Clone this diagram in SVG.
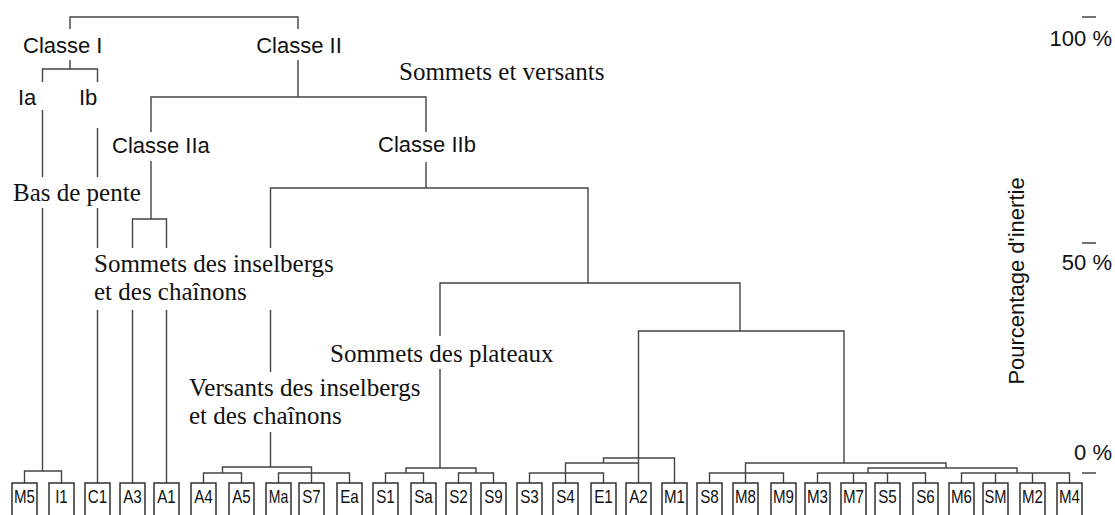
<svg xmlns="http://www.w3.org/2000/svg" width="1115" height="515" viewBox="0 0 1115 515">
<style>
.ln{stroke:#444;stroke-width:1.4;fill:none}
.bx{stroke:#222;stroke-width:1.4;fill:#fff}
.sans{font-family:"Liberation Sans",Arial,sans-serif;font-size:22px;fill:#111}
.serif{font-family:"Liberation Serif","Times New Roman",serif;font-size:25px;fill:#111}
.lf{font-family:"Liberation Sans",Arial,sans-serif;font-size:19px;fill:#111;text-anchor:middle}
</style>
<rect width="1115" height="515" fill="#fff"/>
<g id="connectors" class="ln">
<path d="M70,29V17H298V29"/>
<path d="M70,60V69M42.5,82V69H97.5V82"/>
<path d="M42.5,110V177M42.5,208V471M24.5,483V471H61.5V483"/>
<path d="M97.5,128V177M97.5,208V248M97.5,310V483"/>
<path d="M298,60V97M151,132V97H426V132"/>
<path d="M151,161V219M132.5,248V219H166.5V248M132.5,310V483M166.5,310V483"/>
<path d="M426,162V188M270.5,248V188H588V283"/>
<path d="M270.5,310V372M270.5,432V467M222.5,473V467H311.5V483M203.5,483V473H241.5V483M278.5,483V473H349.5V483"/>
<path d="M440,336V283H740V331M440,369V468M406,473V468H476V473M385.5,483V473H423.5V483M458.5,483V473H493.5V483"/>
<path d="M638.5,483V331H844V463"/>
<path d="M603.5,463V458H674.5V483M565.5,483V463H638.5M529.5,483V473H603.5V483"/>
<path d="M745.5,483V463H946V468M709.5,483V473H783.5V483M868,473V468H1017V473M817.5,483V473H925.5V483M853.5,483V473M887.5,483V473M961.5,483V473H1069.5V483M995.5,483V473M1032.5,483V473"/>
<path d="M1082,17H1096M1082,243H1096M1082,473H1096"/>
</g>
<g id="labels">
<text class="sans" x="23" y="53">Classe I</text>
<text class="sans" x="299" y="53" text-anchor="middle">Classe II</text>
<text class="sans" x="18" y="105">Ia</text>
<text class="sans" x="79" y="105">Ib</text>
<text class="serif" x="399" y="80">Sommets et versants</text>
<text class="sans" x="112" y="153">Classe IIa</text>
<text class="sans" x="427" y="152" text-anchor="middle">Classe IIb</text>
<text class="serif" x="13" y="201">Bas de pente</text>
<text class="serif" x="94" y="272">Sommets des inselbergs</text>
<text class="serif" x="94" y="300">et des chaînons</text>
<text class="serif" x="330" y="362">Sommets des plateaux</text>
<text class="serif" x="189" y="396">Versants des inselbergs</text>
<text class="serif" x="189" y="424">et des chaînons</text>
<text class="sans" x="1112" y="46" text-anchor="end">100 %</text>
<text class="sans" x="1112" y="270" text-anchor="end">50 %</text>
<text class="sans" x="1112" y="460" text-anchor="end">0 %</text>
<text class="sans" font-size="25" transform="translate(1024,281) rotate(-90)" text-anchor="middle">Pourcentage d'inertie</text>
</g>
<g id="leaves">
<g id="n-M5"><rect class="bx" x="12" y="483" width="25" height="40"/><text class="lf" x="24.5" y="503" textLength="21" lengthAdjust="spacingAndGlyphs">M5</text></g>
<g id="n-I1"><rect class="bx" x="49" y="483" width="25" height="40"/><text class="lf" x="61.5" y="503" textLength="12.7" lengthAdjust="spacingAndGlyphs">I1</text></g>
<g id="n-C1"><rect class="bx" x="85" y="483" width="25" height="40"/><text class="lf" x="97.5" y="503" textLength="19.4" lengthAdjust="spacingAndGlyphs">C1</text></g>
<g id="n-A3"><rect class="bx" x="120" y="483" width="25" height="40"/><text class="lf" x="132.5" y="503" textLength="18.6" lengthAdjust="spacingAndGlyphs">A3</text></g>
<g id="n-A1"><rect class="bx" x="154" y="483" width="25" height="40"/><text class="lf" x="166.5" y="503" textLength="18.6" lengthAdjust="spacingAndGlyphs">A1</text></g>
<g id="n-A4"><rect class="bx" x="191" y="483" width="25" height="40"/><text class="lf" x="203.5" y="503" textLength="18.6" lengthAdjust="spacingAndGlyphs">A4</text></g>
<g id="n-A5"><rect class="bx" x="229" y="483" width="25" height="40"/><text class="lf" x="241.5" y="503" textLength="18.6" lengthAdjust="spacingAndGlyphs">A5</text></g>
<g id="n-Ma"><rect class="bx" x="266" y="483" width="25" height="40"/><text class="lf" x="278.5" y="503" textLength="19.5" lengthAdjust="spacingAndGlyphs">Ma</text></g>
<g id="n-S7"><rect class="bx" x="299" y="483" width="25" height="40"/><text class="lf" x="311.5" y="503" textLength="18.6" lengthAdjust="spacingAndGlyphs">S7</text></g>
<g id="n-Ea"><rect class="bx" x="337" y="483" width="25" height="40"/><text class="lf" x="349.5" y="503" textLength="18.6" lengthAdjust="spacingAndGlyphs">Ea</text></g>
<g id="n-S1"><rect class="bx" x="373" y="483" width="25" height="40"/><text class="lf" x="385.5" y="503" textLength="18.6" lengthAdjust="spacingAndGlyphs">S1</text></g>
<g id="n-Sa"><rect class="bx" x="411" y="483" width="25" height="40"/><text class="lf" x="423.5" y="503" textLength="18.6" lengthAdjust="spacingAndGlyphs">Sa</text></g>
<g id="n-S2"><rect class="bx" x="446" y="483" width="25" height="40"/><text class="lf" x="458.5" y="503" textLength="18.6" lengthAdjust="spacingAndGlyphs">S2</text></g>
<g id="n-S9"><rect class="bx" x="481" y="483" width="25" height="40"/><text class="lf" x="493.5" y="503" textLength="18.6" lengthAdjust="spacingAndGlyphs">S9</text></g>
<g id="n-S3"><rect class="bx" x="517" y="483" width="25" height="40"/><text class="lf" x="529.5" y="503" textLength="18.6" lengthAdjust="spacingAndGlyphs">S3</text></g>
<g id="n-S4"><rect class="bx" x="553" y="483" width="25" height="40"/><text class="lf" x="565.5" y="503" textLength="18.6" lengthAdjust="spacingAndGlyphs">S4</text></g>
<g id="n-E1"><rect class="bx" x="591" y="483" width="25" height="40"/><text class="lf" x="603.5" y="503" textLength="18.6" lengthAdjust="spacingAndGlyphs">E1</text></g>
<g id="n-A2"><rect class="bx" x="626" y="483" width="25" height="40"/><text class="lf" x="638.5" y="503" textLength="18.6" lengthAdjust="spacingAndGlyphs">A2</text></g>
<g id="n-M1"><rect class="bx" x="662" y="483" width="25" height="40"/><text class="lf" x="674.5" y="503" textLength="21" lengthAdjust="spacingAndGlyphs">M1</text></g>
<g id="n-S8"><rect class="bx" x="697" y="483" width="25" height="40"/><text class="lf" x="709.5" y="503" textLength="18.6" lengthAdjust="spacingAndGlyphs">S8</text></g>
<g id="n-M8"><rect class="bx" x="733" y="483" width="25" height="40"/><text class="lf" x="745.5" y="503" textLength="21" lengthAdjust="spacingAndGlyphs">M8</text></g>
<g id="n-M9"><rect class="bx" x="771" y="483" width="25" height="40"/><text class="lf" x="783.5" y="503" textLength="21" lengthAdjust="spacingAndGlyphs">M9</text></g>
<g id="n-M3"><rect class="bx" x="805" y="483" width="25" height="40"/><text class="lf" x="817.5" y="503" textLength="21" lengthAdjust="spacingAndGlyphs">M3</text></g>
<g id="n-M7"><rect class="bx" x="841" y="483" width="25" height="40"/><text class="lf" x="853.5" y="503" textLength="21" lengthAdjust="spacingAndGlyphs">M7</text></g>
<g id="n-S5"><rect class="bx" x="875" y="483" width="25" height="40"/><text class="lf" x="887.5" y="503" textLength="18.6" lengthAdjust="spacingAndGlyphs">S5</text></g>
<g id="n-S6"><rect class="bx" x="913" y="483" width="25" height="40"/><text class="lf" x="925.5" y="503" textLength="18.6" lengthAdjust="spacingAndGlyphs">S6</text></g>
<g id="n-M6"><rect class="bx" x="949" y="483" width="25" height="40"/><text class="lf" x="961.5" y="503" textLength="21" lengthAdjust="spacingAndGlyphs">M6</text></g>
<g id="n-SM"><rect class="bx" x="983" y="483" width="25" height="40"/><text class="lf" x="995.5" y="503" textLength="22" lengthAdjust="spacingAndGlyphs">SM</text></g>
<g id="n-M2"><rect class="bx" x="1020" y="483" width="25" height="40"/><text class="lf" x="1032.5" y="503" textLength="21" lengthAdjust="spacingAndGlyphs">M2</text></g>
<g id="n-M4"><rect class="bx" x="1057" y="483" width="25" height="40"/><text class="lf" x="1069.5" y="503" textLength="21" lengthAdjust="spacingAndGlyphs">M4</text></g>
</g>
</svg>
